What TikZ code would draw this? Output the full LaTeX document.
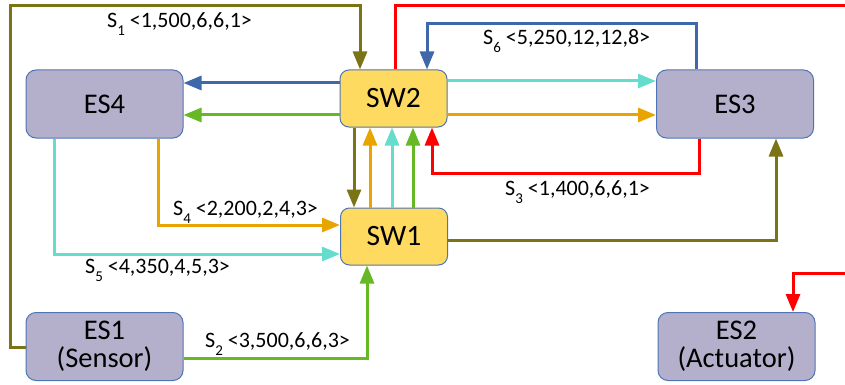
\documentclass[tikz,border=0pt]{standalone}
\usepackage{fontspec}
\setmainfont{Carlito}
\usetikzlibrary{arrows.meta}

\definecolor{cOlive}{RGB}{122,116,22}
\definecolor{cBlue}{RGB}{62,104,170}
\definecolor{cGreen}{RGB}{102,184,36}
\definecolor{cCyan}{RGB}{102,221,204}
\definecolor{cOrange}{RGB}{232,165,0}
\definecolor{cRed}{RGB}{255,0,0}
\definecolor{esfill}{RGB}{180,176,203}
\definecolor{swfill}{RGB}{255,218,96}
\definecolor{boxline}{RGB}{79,116,181}

% subscript index of a stream name
\newcommand{\flowsub}[1]{\raisebox{-8pt}{\fontsize{15}{15}\selectfont #1}}

\begin{document}
\begin{tikzpicture}[x=1pt,y=-1pt,
  es/.style={draw=boxline, line width=1pt, fill=esfill, rounded corners=10pt,
    minimum width=157pt, minimum height=68pt, inner sep=0pt, align=center,
    font=\fontsize{28.5}{28}\selectfont},
  sw/.style={draw=boxline, line width=1pt, fill=swfill, rounded corners=9pt,
    minimum width=107pt, minimum height=57pt, inner sep=0pt,
    font=\fontsize{29.5}{29}\selectfont},
  flow/.style={line width=3pt, -{Triangle[length=18pt,width=14pt]}},
  lbl/.style={anchor=base west, inner sep=0pt, font=\fontsize{22}{22}\selectfont}]

\useasboundingbox (0,0) rectangle (845,385);

% end systems and switches
\node[es] (ES4) at (104.5,104) {ES4};
\node[sw] (SW2) at (393.5,98.5) {SW2};
\node[es] (ES3) at (735,104) {ES3};
\node[sw] (SW1) at (394,236.5) {SW1};
\node[es] (ES1) at (104.5,346.5) {ES1\\(Sensor)};
\node[es] (ES2) at (736.5,346.5) {ES2\\(Actuator)};

% free ends of the red route leaving the right border
\coordinate (redout) at (845,6);
\coordinate (redin) at (845,273);

% S1: ES1 -> SW2 around the left side
\draw[flow,cOlive] (ES1.west |- 0,347) -- (10,347) -- (10,6) -- (360,6) -- (SW2.north -| 360,0);
% SW2 -> ES4
\draw[flow,cBlue] (SW2.west |- 0,83) -- (ES4.east |- 0,83);
\draw[flow,cGreen] (SW2.west |- 0,115) -- (ES4.east |- 0,115);
% SW2 -> ES3
\draw[flow,cCyan] (SW2.east |- 0,81) -- (ES3.west |- 0,81);
\draw[flow,cOrange] (SW2.east |- 0,115) -- (ES3.west |- 0,115);
% S6: ES3 -> SW2 over the top
\draw[flow,cBlue] (ES3.north -| 696,0) -- (696,24) -- (427,24) -- (SW2.north -| 427,0);
% S3: ES3 -> SW2 from below, then on to ES2
\draw[flow,cRed] (ES3.south -| 699,0) -- (699,173) -- (432,173) -- (SW2.south -| 432,0);
\draw[line width=3pt,cRed] (SW2.north -| 395,0) -- (395,6) -- (redout);
\draw[flow,cRed] (redin) -- (793,273) -- (ES2.north -| 793,0);
% links between the switches
\draw[flow,cOlive] (SW2.south -| 354,0) -- (SW1.north -| 354,0);
\draw[flow,cOrange] (SW1.north -| 370,0) -- (SW2.south -| 370,0);
\draw[flow,cCyan] (SW1.north -| 392,0) -- (SW2.south -| 392,0);
\draw[flow,cGreen] (SW1.north -| 413,0) -- (SW2.south -| 413,0);
% S4 and S5: ES4 -> SW1
\draw[flow,cOrange] (ES4.south -| 158,0) -- (158,225) -- (SW1.west |- 0,225);
\draw[flow,cCyan] (ES4.south -| 54,0) -- (54,254) -- (SW1.west |- 0,254);
% S2: ES1 -> SW1
\draw[flow,cGreen] (ES1.east |- 0,358) -- (367,358) -- (SW1.south -| 367,0);
% SW1 -> ES3
\draw[flow,cOlive] (SW1.east |- 0,240) -- (776,240) -- (ES3.south -| 776,0);

% stream labels
\node[lbl] (l1) at (107,28) {S\flowsub{1} <1,500,6,6,1>};
\node[lbl] (l6) at (483,45) {S\flowsub{6} <5,250,12,12,8>};
\node[lbl] (l3) at (505,195) {S\flowsub{3} <1,400,6,6,1>};
\node[lbl] (l4) at (173,215) {S\flowsub{4} <2,200,2,4,3>};
\node[lbl] (l5) at (85,273) {S\flowsub{5} <4,350,4,5,3>};
\node[lbl] (l2) at (205,347) {S\flowsub{2} <3,500,6,6,3>};
\end{tikzpicture}
\end{document}
